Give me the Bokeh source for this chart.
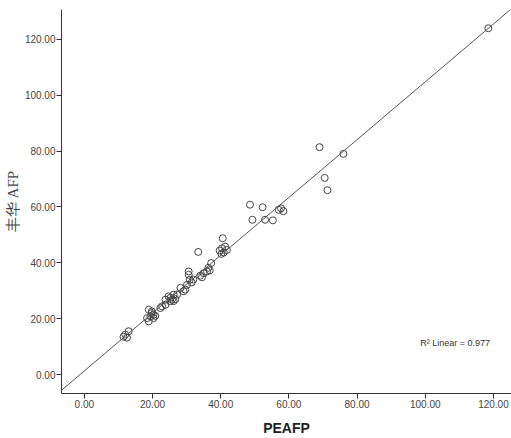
from bokeh.plotting import figure
from bokeh.models import Range1d, FixedTicker, PrintfTickFormatter, Slope, Label
from bokeh.embed import file_html
from bokeh.resources import INLINE

# PEAFP (x) vs 丰华 AFP (y)
peafp = [118.5, 69.0, 76.0, 70.5, 71.3, 48.6, 52.3, 49.3, 53.0, 55.3,
         57.0, 57.7, 58.4, 40.6, 33.4, 40.4, 41.3, 40.9, 41.8, 39.7,
         40.2, 37.2, 36.4, 36.0, 35.0, 34.0, 36.8, 30.6, 30.6, 30.9,
         31.5, 30.1, 29.6, 28.2, 29.1, 27.2, 26.2, 25.7, 25.2, 23.8,
         23.8, 22.8, 22.3, 24.7, 26.2, 25.3, 18.9, 19.8, 19.4, 18.4,
         20.3, 18.9, 20.3, 19.8, 20.8, 13.0, 12.0, 11.5, 12.5, 34.5,
         32.0, 26.7]
fenghua_afp = [124.0, 81.4, 79.0, 70.4, 66.0, 60.8, 59.9, 55.4, 55.4, 55.2,
               59.0, 59.5, 58.5, 48.8, 43.9, 45.2, 45.8, 43.7, 44.6, 44.4,
               43.2, 39.9, 38.2, 36.9, 36.3, 35.4, 37.3, 36.9, 35.7, 33.9,
               33.0, 32.1, 30.4, 31.0, 29.8, 28.6, 28.6, 26.8, 26.2, 26.8,
               25.0, 24.4, 23.8, 28.0, 26.3, 27.5, 23.2, 22.0, 20.8, 20.2,
               21.4, 19.0, 20.2, 22.6, 21.0, 15.5, 14.3, 13.5, 13.2, 34.8,
               34.0, 27.0]

fit_slope = 1.035
fit_intercept = 1.3
r2_text = "R\u00b2 Linear = 0.977"

x_ticks = [0, 20, 40, 60, 80, 100, 120]
y_ticks = [0, 20, 40, 60, 80, 100, 120]

p = figure(width=511, height=438, output_backend="svg", toolbar_location=None,
           x_range=Range1d(-6.7, 125.3), y_range=Range1d(-6.8, 130.7),
           min_border_left=61, min_border_right=0, min_border_top=9,
           min_border_bottom=43)
p.outline_line_color = None
p.xgrid.visible = False
p.ygrid.visible = False
p.background_fill_color = "white"
p.border_fill_color = "white"

for ax, ticks in ((p.xaxis[0], x_ticks), (p.yaxis[0], y_ticks)):
    ax.ticker = FixedTicker(ticks=ticks)
    ax.formatter = PrintfTickFormatter(format="%.2f")
    ax.minor_tick_line_color = None
    ax.major_tick_in = 0
    ax.major_tick_out = 5
    ax.axis_line_color = "#333333"
    ax.major_tick_line_color = "#333333"
    ax.major_label_text_font = "Liberation Sans"
    ax.major_label_text_font_size = "10px"
    ax.major_label_text_color = "#444444"
    ax.major_label_standoff = 1

p.xaxis.axis_label = "PEAFP"
p.xaxis.axis_label_text_font = "Liberation Sans"
p.xaxis.axis_label_text_font_style = "bold"
p.xaxis.axis_label_text_font_size = "14px"
p.xaxis.axis_label_text_color = "#222222"
p.xaxis.axis_label_standoff = 9

p.yaxis.axis_label = "丰华 AFP"
p.yaxis.axis_label_text_font = "Liberation Serif"
p.yaxis.axis_label_text_font_style = "normal"
p.yaxis.axis_label_text_font_size = "15px"
p.yaxis.axis_label_text_color = "#444444"
p.yaxis.axis_label_standoff = 1

p.add_layout(Slope(gradient=fit_slope, y_intercept=fit_intercept,
                   line_color="#555555", line_width=1))

p.scatter(peafp, fenghua_afp, marker="circle", size=7, fill_color=None,
          line_color="#444444", line_width=1)

p.add_layout(Label(x=98.5, y=11.4, text=r2_text, text_font="Liberation Sans",
                   text_font_size="9px", text_color="#333333",
                   text_baseline="middle"))

open("out.html", "w").write(file_html(p, INLINE))
